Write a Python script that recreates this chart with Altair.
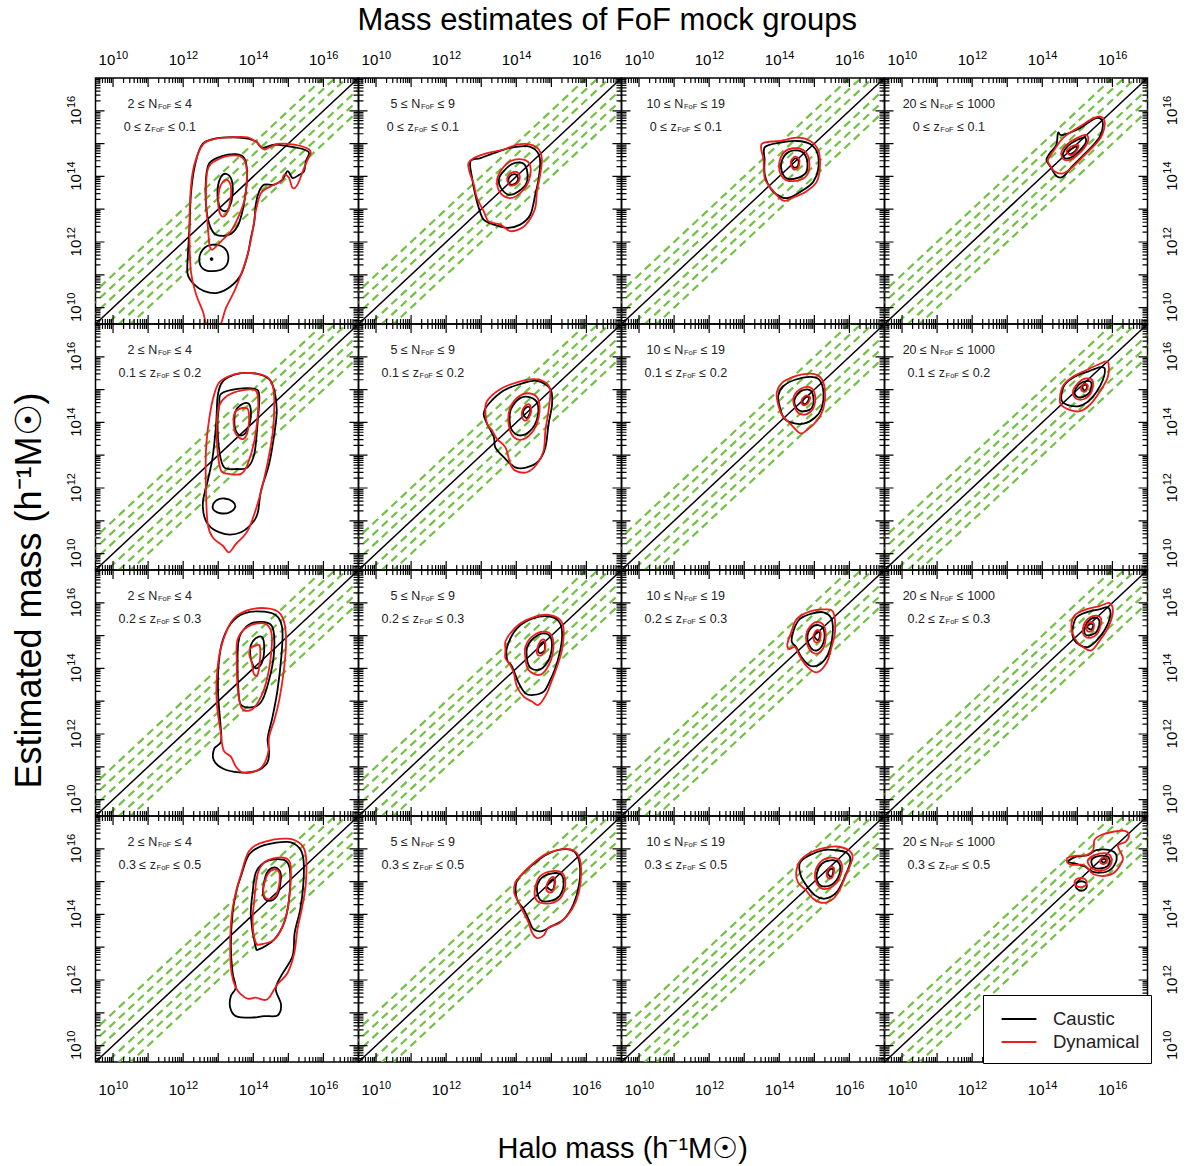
import altair as alt
import pandas as pd

# ---------------------------------------------------------------------------
# Data: contour rings as (log10 halo mass, log10 estimated
# mass).  One list of rings per panel (row, column) and per estimator.
# ---------------------------------------------------------------------------
CAUSTIC_00 = [
    [(12.51, 14.92), (12.79, 15.12), (13.27, 15.19), (13.74, 15.17), (14.07, 15.07), (14.26, 14.87), (14.60, 14.97),
     (14.98, 14.92), (15.45, 14.82), (15.59, 14.71), (15.50, 14.46), (15.45, 14.16), (15.31, 14.05), (15.12, 13.95),
     (14.98, 14.16), (14.83, 13.90), (14.60, 13.75), (14.31, 13.75), (14.17, 13.55), (14.07, 13.14), (14.03, 12.63),
     (13.93, 12.12), (13.84, 11.62), (13.65, 11.01), (13.36, 10.65), (12.98, 10.45), (12.60, 10.50), (12.32, 10.70),
     (12.13, 11.01), (12.13, 11.51), (12.18, 12.43), (12.22, 13.44), (12.32, 14.26)],
    [(12.75, 14.41), (13.08, 14.61), (13.50, 14.68), (13.74, 14.56), (13.82, 14.16), (13.79, 13.55), (13.69, 12.94),
     (13.55, 12.48), (13.31, 12.22), (12.94, 12.22), (12.75, 12.53), (12.65, 13.14), (12.65, 13.95)],
    [(13.22, 14.08), (13.38, 13.90), (13.41, 13.44), (13.31, 13.04), (13.17, 12.94), (13.03, 13.09), (12.98, 13.55),
     (13.06, 13.95)],
    [(12.46, 11.46), (12.56, 11.77), (12.84, 11.92), (13.17, 11.82), (13.29, 11.51), (13.17, 11.21), (12.84, 11.11),
     (12.56, 11.19)],
    [(12.79, 11.50), (12.83, 11.50), (12.83, 11.46), (12.79, 11.46)],
]
DYNAMICAL_00 = [
    [(12.56, 14.97), (12.89, 15.14), (13.36, 15.19), (13.84, 15.19), (14.12, 15.02), (14.31, 14.82), (14.69, 14.99),
     (15.17, 14.97), (15.55, 14.85), (15.64, 14.71), (15.55, 14.51), (15.45, 14.26), (15.26, 13.75), (15.12, 13.65),
     (15.02, 13.95), (14.88, 14.05), (14.79, 13.85), (14.50, 13.70), (14.22, 13.49), (14.07, 12.94), (13.98, 12.33),
     (13.84, 11.62), (13.65, 11.01), (13.46, 10.50), (13.22, 9.99), (13.03, 9.42), (12.70, 9.42), (12.56, 9.89),
     (12.37, 10.40), (12.22, 11.11), (12.18, 12.43), (12.22, 13.65), (12.32, 14.36)],
    [(12.70, 14.21), (12.98, 14.51), (13.46, 14.64), (13.74, 14.51), (13.82, 14.05), (13.76, 13.34), (13.60, 12.83),
     (13.36, 12.33), (13.08, 12.02), (12.84, 11.77), (12.75, 11.92), (12.70, 12.53), (12.65, 13.34)],
    [(13.25, 13.90), (13.36, 13.70), (13.34, 13.24), (13.22, 12.83), (13.08, 12.81), (13.00, 13.14), (13.03, 13.60),
     (13.13, 13.83)],
]
CAUSTIC_01 = [
    [(12.69, 14.46), (12.98, 14.56), (13.36, 14.71), (13.83, 14.87), (14.30, 14.92), (14.59, 14.76), (14.68, 14.46),
     (14.64, 13.95), (14.54, 13.44), (14.40, 12.83), (14.11, 12.53), (13.74, 12.43), (13.36, 12.53), (13.07, 12.68),
     (12.93, 13.04), (12.83, 13.44), (12.74, 13.95)],
    [(13.59, 14.10), (13.88, 14.38), (14.16, 14.41), (14.30, 14.21), (14.29, 13.80), (14.07, 13.55), (13.78, 13.44),
     (13.56, 13.65), (13.50, 13.90)],
    [(13.78, 13.93), (13.88, 14.05), (14.00, 14.05), (14.05, 13.90), (13.94, 13.77), (13.81, 13.77)],
]
DYNAMICAL_01 = [
    [(12.64, 14.41), (12.79, 14.56), (13.17, 14.71), (13.64, 14.82), (14.02, 14.97), (14.40, 14.97), (14.64, 14.82),
     (14.73, 14.51), (14.68, 14.05), (14.59, 13.55), (14.54, 13.04), (14.35, 12.63), (14.16, 12.43), (13.83, 12.33),
     (13.55, 12.53), (13.21, 12.63), (13.07, 12.94), (12.88, 13.34), (12.79, 13.75), (12.69, 14.05), (12.64, 14.26)],
    [(13.55, 14.16), (13.83, 14.46), (14.21, 14.51), (14.40, 14.31), (14.35, 13.85), (14.11, 13.49), (13.83, 13.34),
     (13.55, 13.49), (13.45, 13.85)],
    [(13.74, 13.95), (13.85, 14.10), (14.02, 14.13), (14.10, 13.97), (14.00, 13.77), (13.81, 13.73)],
]
CAUSTIC_02 = [
    [(13.59, 14.89), (14.02, 15.03), (14.50, 15.08), (14.88, 14.99), (15.09, 14.70), (15.11, 14.22), (14.97, 13.84),
     (14.69, 13.59), (14.31, 13.36), (14.07, 13.36), (13.78, 13.59), (13.59, 14.03), (13.58, 14.51)],
    [(14.07, 14.47), (14.26, 14.74), (14.59, 14.78), (14.78, 14.55), (14.78, 14.16), (14.57, 13.97), (14.23, 13.93),
     (14.07, 14.16)],
    [(14.35, 14.43), (14.46, 14.55), (14.55, 14.47), (14.52, 14.30), (14.40, 14.28)],
]
DYNAMICAL_02 = [
    [(13.50, 14.99), (14.02, 15.08), (14.50, 15.18), (14.88, 15.08), (15.11, 14.80), (15.16, 14.32), (15.07, 13.84),
     (14.78, 13.55), (14.40, 13.36), (14.12, 13.26), (13.83, 13.55), (13.59, 13.93), (13.55, 14.51)],
    [(14.02, 14.51), (14.21, 14.80), (14.59, 14.85), (14.83, 14.60), (14.83, 14.12), (14.59, 13.89), (14.21, 13.88),
     (14.02, 14.12)],
    [(14.33, 14.45), (14.45, 14.60), (14.57, 14.51), (14.54, 14.28), (14.40, 14.22)],
]
CAUSTIC_03 = [
    [(14.12, 14.50), (14.21, 14.70), (14.40, 14.96), (14.45, 15.33), (14.57, 15.26), (15.07, 15.47), (15.45, 15.74),
     (15.65, 15.77), (15.73, 15.57), (15.64, 15.21), (15.40, 14.89), (15.11, 14.58), (14.83, 14.28), (14.59, 13.99),
     (14.40, 14.01), (14.23, 14.30)],
    [(14.59, 14.70), (14.73, 14.93), (14.99, 15.11), (15.21, 15.19), (15.24, 15.03), (15.07, 14.79), (14.86, 14.60),
     (14.65, 14.55)],
    [(14.73, 14.76), (14.86, 14.86), (14.99, 14.91), (14.95, 14.79), (14.80, 14.68)],
]
DYNAMICAL_03 = [
    [(14.16, 14.50), (14.31, 14.76), (14.54, 15.11), (14.69, 15.26), (15.07, 15.52), (15.45, 15.77), (15.68, 15.82),
     (15.78, 15.62), (15.68, 15.21), (15.45, 14.91), (15.16, 14.60), (14.88, 14.30), (14.59, 14.09), (14.35, 14.15),
     (14.21, 14.35)],
    [(14.54, 14.70), (14.69, 14.96), (14.97, 15.16), (15.26, 15.26), (15.30, 15.06), (15.11, 14.76), (14.88, 14.55),
     (14.64, 14.50)],
    [(14.69, 14.76), (14.83, 14.91), (15.02, 14.96), (14.99, 14.81), (14.83, 14.65)],
]
CAUSTIC_10 = [
    [(13.27, 15.37), (13.65, 15.50), (14.12, 15.48), (14.45, 15.32), (14.60, 14.97), (14.67, 14.36), (14.60, 13.65),
     (14.45, 12.73), (14.22, 11.92), (14.14, 11.31), (14.03, 11.01), (13.65, 10.65), (13.17, 10.60), (12.70, 10.90),
     (12.56, 11.51), (12.70, 12.22), (12.84, 12.94), (12.94, 13.95), (12.98, 14.76), (13.08, 15.17)],
    [(13.08, 14.87), (13.55, 15.02), (14.03, 15.02), (14.17, 14.82), (14.12, 13.95), (14.03, 13.04), (13.84, 12.63),
     (13.55, 12.58), (13.17, 12.63), (13.03, 13.14), (12.98, 13.95), (13.03, 14.56)],
    [(13.50, 14.36), (13.69, 14.56), (13.88, 14.56), (13.93, 14.16), (13.82, 13.75), (13.65, 13.60), (13.50, 13.75),
     (13.46, 14.05)],
    [(12.84, 11.43), (12.94, 11.62), (13.17, 11.68), (13.41, 11.59), (13.48, 11.41), (13.31, 11.25), (13.06, 11.23),
     (12.89, 11.31)],
]
DYNAMICAL_10 = [
    [(13.08, 15.27), (13.65, 15.50), (14.31, 15.43), (14.55, 15.12), (14.60, 14.56), (14.55, 13.65), (14.36, 12.53),
     (14.12, 11.51), (13.84, 10.70), (13.50, 10.29), (13.31, 10.04), (13.13, 10.24), (12.84, 10.50), (12.70, 10.90),
     (12.65, 11.92), (12.65, 13.14), (12.75, 14.16), (12.89, 14.87)],
    [(13.03, 14.51), (13.27, 14.82), (13.65, 14.97), (14.07, 14.97), (14.14, 14.46), (14.03, 13.44), (13.84, 12.73),
     (13.65, 12.43), (13.31, 12.43), (13.08, 12.53), (12.98, 13.14), (12.96, 13.95)],
    [(13.46, 14.26), (13.60, 14.41), (13.84, 14.41), (13.88, 14.05), (13.82, 13.65), (13.69, 13.49), (13.50, 13.65),
     (13.44, 13.95)],
]
CAUSTIC_11 = [
    [(13.07, 14.26), (13.21, 14.56), (13.64, 14.97), (14.11, 15.17), (14.59, 15.27), (14.97, 15.02), (15.02, 14.56),
     (14.92, 13.95), (14.83, 13.24), (14.64, 12.83), (14.30, 12.63), (13.97, 12.63), (13.64, 12.94), (13.40, 13.24),
     (13.36, 13.55), (13.17, 13.95)],
    [(13.81, 14.05), (13.85, 14.41), (14.11, 14.74), (14.40, 14.76), (14.61, 14.56), (14.59, 14.10), (14.40, 13.75),
     (14.11, 13.60), (13.88, 13.75)],
    [(14.19, 14.31), (14.29, 14.46), (14.38, 14.46), (14.40, 14.31), (14.29, 14.13)],
]
DYNAMICAL_11 = [
    [(13.12, 14.36), (13.17, 14.66), (13.55, 15.02), (14.02, 15.22), (14.49, 15.32), (14.83, 15.22), (14.97, 14.97),
     (14.92, 14.36), (14.83, 13.75), (14.78, 13.14), (14.59, 12.73), (14.30, 12.48), (13.97, 12.53), (13.83, 12.73),
     (13.69, 13.24), (13.45, 13.49), (13.31, 13.75), (13.17, 13.95)],
    [(13.78, 13.95), (13.83, 14.46), (14.11, 14.82), (14.45, 14.87), (14.64, 14.66), (14.64, 14.16), (14.49, 13.75),
     (14.21, 13.49), (13.93, 13.55)],
    [(14.16, 14.31), (14.26, 14.51), (14.38, 14.54), (14.42, 14.31), (14.30, 14.07), (14.19, 14.10)],
]
CAUSTIC_12 = [
    [(13.97, 14.82), (14.12, 15.11), (14.45, 15.30), (14.88, 15.39), (15.14, 15.30), (15.26, 14.92), (15.21, 14.44),
     (15.02, 14.15), (14.69, 13.96), (14.35, 13.99), (14.12, 14.15), (14.00, 14.53)],
    [(14.43, 14.68), (14.61, 14.95), (14.86, 14.99), (14.97, 14.78), (14.93, 14.45), (14.70, 14.34), (14.52, 14.40)],
    [(14.67, 14.68), (14.76, 14.78), (14.85, 14.74), (14.78, 14.59), (14.69, 14.57)],
]
DYNAMICAL_12 = [
    [(13.93, 14.92), (14.07, 15.20), (14.40, 15.39), (14.88, 15.49), (15.16, 15.39), (15.30, 15.01), (15.26, 14.44),
     (15.07, 14.05), (14.78, 13.76), (14.59, 13.67), (14.31, 13.96), (14.07, 14.24), (13.95, 14.63)],
    [(14.40, 14.72), (14.59, 15.01), (14.88, 15.07), (15.02, 14.82), (14.97, 14.44), (14.73, 14.24), (14.50, 14.34)],
    [(14.64, 14.68), (14.76, 14.82), (14.88, 14.76), (14.80, 14.57), (14.67, 14.53)],
]
CAUSTIC_13 = [
    [(14.54, 14.82), (14.64, 15.15), (14.92, 15.39), (15.30, 15.55), (15.63, 15.68), (15.78, 15.64), (15.73, 15.30),
     (15.54, 14.92), (15.30, 14.63), (15.02, 14.49), (14.73, 14.53), (14.57, 14.63)],
    [(14.92, 14.92), (15.04, 15.15), (15.25, 15.26), (15.40, 15.20), (15.35, 14.92), (15.16, 14.78), (14.99, 14.78)],
    [(15.14, 15.07), (15.22, 15.15), (15.28, 15.09), (15.22, 14.97)],
]
DYNAMICAL_13 = [
    [(14.50, 14.72), (14.59, 15.11), (14.87, 15.39), (15.25, 15.59), (15.63, 15.78), (15.87, 15.84), (15.87, 15.39),
     (15.63, 14.92), (15.35, 14.53), (15.07, 14.34), (14.78, 14.38), (14.54, 14.53)],
    [(14.87, 14.92), (15.02, 15.20), (15.25, 15.34), (15.44, 15.26), (15.40, 14.92), (15.21, 14.72), (14.97, 14.72)],
    [(15.11, 15.07), (15.21, 15.18), (15.30, 15.11), (15.24, 14.95), (15.14, 14.95)],
]
CAUSTIC_20 = [
    [(13.36, 15.37), (13.74, 15.68), (14.31, 15.73), (14.69, 15.58), (14.83, 15.17), (14.80, 14.36), (14.69, 13.34),
     (14.55, 12.53), (14.41, 11.87), (14.45, 11.46), (14.39, 11.11), (14.07, 10.87), (13.60, 10.83), (13.13, 10.95),
     (12.87, 11.21), (12.89, 11.56), (13.08, 11.77), (13.06, 12.33), (13.00, 13.14), (13.00, 13.95), (13.10, 14.76)],
    [(13.57, 14.76), (13.65, 15.07), (13.93, 15.37), (14.41, 15.39), (14.58, 15.12), (14.58, 14.36), (14.45, 13.65),
     (14.26, 13.04), (14.03, 12.83), (13.65, 12.89), (13.57, 13.44), (13.55, 14.16)],
    [(13.93, 14.71), (14.07, 14.92), (14.26, 14.94), (14.31, 14.56), (14.24, 14.16), (14.07, 14.00), (13.95, 14.21),
     (13.91, 14.46)],
]
DYNAMICAL_20 = [
    [(13.50, 15.58), (13.93, 15.80), (14.41, 15.83), (14.74, 15.70), (14.90, 15.32), (14.93, 14.66), (14.86, 13.85),
     (14.74, 13.04), (14.60, 12.43), (14.45, 11.92), (14.43, 11.46), (14.26, 11.01), (13.98, 10.84), (13.69, 10.83),
     (13.50, 11.01), (13.36, 11.31), (13.15, 11.51), (13.06, 12.12), (12.96, 12.94), (12.96, 13.75), (13.06, 14.56),
     (13.27, 15.22)],
    [(13.55, 14.87), (13.84, 15.27), (14.31, 15.37), (14.52, 15.07), (14.50, 14.36), (14.36, 13.55), (14.12, 12.94),
     (13.88, 12.71), (13.65, 12.83), (13.55, 13.44), (13.53, 14.16)],
    [(13.89, 14.41), (13.91, 14.61), (14.12, 14.71), (14.19, 14.66), (14.19, 14.26), (14.12, 13.80), (14.01, 13.85),
     (13.96, 14.16)],
]
CAUSTIC_21 = [
    [(13.74, 14.66), (14.02, 15.22), (14.49, 15.53), (14.97, 15.58), (15.25, 15.37), (15.30, 14.87), (15.16, 14.16),
     (14.97, 13.65), (14.78, 13.29), (14.49, 13.19), (14.26, 13.24), (14.07, 13.55), (13.88, 14.05), (13.74, 14.26)],
    [(14.30, 14.61), (14.49, 14.92), (14.78, 15.07), (14.99, 14.92), (14.99, 14.46), (14.83, 14.10), (14.59, 13.95),
     (14.35, 14.10)],
    [(14.62, 14.56), (14.70, 14.76), (14.80, 14.79), (14.81, 14.56), (14.68, 14.46)],
]
DYNAMICAL_21 = [
    [(13.69, 14.82), (13.83, 15.07), (14.11, 15.37), (14.54, 15.58), (14.92, 15.63), (15.25, 15.48), (15.35, 15.17),
     (15.30, 14.56), (15.16, 14.05), (15.02, 13.65), (14.87, 13.24), (14.64, 12.89), (14.45, 12.99), (14.21, 13.14),
     (14.02, 13.44), (13.93, 13.85), (13.83, 14.10), (13.69, 14.31), (13.69, 14.56)],
    [(14.26, 14.66), (14.45, 14.97), (14.78, 15.12), (15.02, 14.97), (15.04, 14.46), (14.87, 14.00), (14.64, 13.80),
     (14.35, 13.95), (14.26, 14.31)],
    [(14.59, 14.56), (14.68, 14.82), (14.80, 14.87), (14.83, 14.61), (14.73, 14.41), (14.61, 14.41)],
]
CAUSTIC_22 = [
    [(14.35, 14.84), (14.45, 15.28), (14.59, 15.51), (14.92, 15.67), (15.26, 15.71), (15.49, 15.51), (15.52, 15.03),
     (15.40, 14.46), (15.16, 14.13), (14.88, 14.08), (14.64, 14.33), (14.48, 14.65)],
    [(14.80, 14.94), (14.90, 15.23), (15.11, 15.32), (15.27, 15.17), (15.26, 14.79), (15.08, 14.55), (14.90, 14.63)],
    [(15.00, 14.98), (15.08, 15.13), (15.16, 15.05), (15.11, 14.86)],
]
DYNAMICAL_22 = [
    [(14.23, 14.75), (14.35, 15.13), (14.50, 15.51), (14.88, 15.74), (15.30, 15.80), (15.54, 15.71), (15.59, 15.13),
     (15.49, 14.65), (15.35, 14.17), (15.07, 13.88), (14.78, 14.07), (14.59, 14.36), (14.45, 14.65), (14.29, 14.59)],
    [(14.76, 14.94), (14.88, 15.28), (15.11, 15.42), (15.30, 15.23), (15.30, 14.75), (15.11, 14.46), (14.88, 14.55)],
    [(14.97, 14.98), (15.07, 15.17), (15.18, 15.09), (15.14, 14.84), (15.02, 14.80)],
]
CAUSTIC_23 = [
    [(14.86, 15.17), (14.97, 15.55), (15.25, 15.71), (15.63, 15.80), (15.87, 15.86), (15.94, 15.61), (15.78, 15.17),
     (15.54, 14.84), (15.30, 14.65), (15.07, 14.71), (14.89, 14.90)],
    [(15.21, 15.23), (15.33, 15.46), (15.52, 15.55), (15.63, 15.42), (15.56, 15.13), (15.40, 15.02), (15.23, 15.03)],
    [(15.28, 15.26), (15.37, 15.36), (15.45, 15.32), (15.40, 15.19)],
]
DYNAMICAL_23 = [
    [(14.83, 15.23), (14.92, 15.61), (15.25, 15.80), (15.63, 15.90), (15.92, 15.99), (16.01, 15.71), (15.87, 15.23),
     (15.63, 14.84), (15.40, 14.55), (15.16, 14.65), (14.97, 14.84)],
    [(15.16, 15.23), (15.30, 15.51), (15.54, 15.61), (15.68, 15.48), (15.59, 15.09), (15.40, 14.94), (15.21, 14.98)],
    [(15.25, 15.26), (15.35, 15.40), (15.47, 15.36), (15.44, 15.17), (15.30, 15.13)],
]
CAUSTIC_30 = [
    [(13.65, 15.17), (13.88, 15.83), (14.31, 16.11), (14.98, 16.21), (15.31, 16.03), (15.43, 15.68), (15.43, 14.97),
     (15.34, 14.16), (15.18, 13.44), (15.12, 12.73), (14.79, 12.12), (14.64, 11.72), (14.79, 11.26), (14.69, 10.92),
     (14.31, 10.90), (13.93, 10.85), (13.50, 10.90), (13.34, 11.16), (13.36, 11.51), (13.50, 11.77), (13.41, 12.22),
     (13.36, 13.04), (13.41, 14.05), (13.53, 14.76)],
    [(13.93, 13.95), (13.98, 14.66), (14.07, 15.27), (14.31, 15.58), (14.60, 15.68), (14.93, 15.63), (15.05, 15.32),
     (15.02, 14.46), (14.88, 13.75), (14.60, 13.24), (14.17, 12.94), (14.06, 13.04)],
    [(14.29, 14.87), (14.39, 15.27), (14.60, 15.43), (14.77, 15.29), (14.77, 14.92), (14.67, 14.56), (14.45, 14.41),
     (14.29, 14.56)],
]
DYNAMICAL_30 = [
    [(13.65, 15.22), (13.88, 15.93), (14.31, 16.21), (14.98, 16.31), (15.36, 16.14), (15.50, 15.78), (15.50, 14.97),
     (15.40, 14.26), (15.26, 13.55), (15.17, 12.83), (14.98, 12.22), (14.69, 11.87), (14.45, 11.46), (14.31, 11.39),
     (14.07, 11.46), (13.84, 11.43), (13.65, 11.56), (13.50, 11.77), (13.38, 12.22), (13.34, 12.94), (13.38, 13.95),
     (13.50, 14.66)],
    [(13.98, 13.75), (14.03, 14.46), (14.12, 15.22), (14.31, 15.58), (14.69, 15.73), (14.98, 15.68), (15.07, 15.37),
     (15.02, 14.46), (14.88, 13.75), (14.60, 13.24), (14.22, 13.09), (14.07, 13.14)],
    [(14.29, 14.82), (14.41, 15.22), (14.60, 15.37), (14.74, 15.27), (14.74, 14.92), (14.64, 14.56), (14.45, 14.46),
     (14.31, 14.56)],
]
CAUSTIC_31 = [
    [(14.02, 14.46), (14.00, 14.97), (14.21, 15.27), (14.54, 15.58), (14.87, 15.83), (15.30, 15.98), (15.63, 15.93),
     (15.80, 15.58), (15.80, 14.97), (15.63, 14.31), (15.35, 13.85), (15.02, 13.65), (14.73, 13.49), (14.49, 13.55),
     (14.35, 13.85), (14.21, 14.16)],
    [(14.59, 14.82), (14.73, 15.12), (15.02, 15.25), (15.27, 15.22), (15.35, 14.92), (15.23, 14.56), (14.97, 14.41),
     (14.68, 14.44)],
    [(14.87, 14.85), (14.97, 15.02), (15.06, 15.07), (15.09, 14.92), (15.02, 14.74)],
]
DYNAMICAL_31 = [
    [(13.94, 14.66), (13.97, 14.97), (14.16, 15.22), (14.45, 15.53), (14.78, 15.80), (15.16, 15.96), (15.54, 15.98),
     (15.78, 15.78), (15.85, 15.27), (15.78, 14.66), (15.59, 14.16), (15.25, 13.75), (14.92, 13.60), (14.78, 13.36),
     (14.59, 13.28), (14.45, 13.44), (14.35, 13.75), (14.21, 14.05), (14.07, 14.36)],
    [(14.54, 14.51), (14.54, 14.82), (14.68, 15.17), (15.02, 15.32), (15.30, 15.27), (15.40, 14.97), (15.30, 14.56),
     (15.06, 14.36), (14.68, 14.36)],
    [(14.85, 14.82), (14.95, 15.07), (15.06, 15.14), (15.11, 14.97), (15.04, 14.71), (14.92, 14.68)],
]
CAUSTIC_32 = [
    [(14.59, 15.58), (14.88, 15.81), (15.26, 15.96), (15.59, 15.96), (15.92, 15.88), (16.03, 15.63), (15.87, 15.15),
     (15.63, 14.67), (15.30, 14.48), (15.02, 14.58), (14.78, 14.87), (14.61, 15.19)],
    [(15.07, 15.25), (15.21, 15.54), (15.46, 15.65), (15.69, 15.58), (15.73, 15.29), (15.56, 14.96), (15.30, 14.85),
     (15.11, 14.96)],
    [(15.38, 15.25), (15.46, 15.38), (15.54, 15.35), (15.49, 15.15)],
]
DYNAMICAL_32 = [
    [(14.48, 15.25), (14.59, 15.63), (14.88, 15.88), (15.26, 16.02), (15.63, 16.07), (15.97, 15.96), (16.09, 15.73),
     (15.92, 15.25), (15.73, 14.77), (15.54, 14.48), (15.26, 14.35), (14.97, 14.48), (14.73, 14.77), (14.54, 14.96)],
    [(15.02, 15.25), (15.16, 15.58), (15.45, 15.73), (15.73, 15.63), (15.78, 15.31), (15.59, 14.92), (15.30, 14.77),
     (15.08, 14.92)],
    [(15.35, 15.25), (15.45, 15.44), (15.56, 15.40), (15.52, 15.15), (15.40, 15.10)],
]
CAUSTIC_33 = [
    [(14.73, 15.61), (14.97, 15.76), (15.30, 15.81), (15.54, 15.96), (15.92, 15.96), (16.11, 15.81), (16.06, 15.51),
     (15.83, 15.30), (15.45, 15.30), (15.21, 15.46), (14.97, 15.54)],
    [(15.40, 15.64), (15.54, 15.76), (15.83, 15.78), (15.92, 15.66), (15.87, 15.48), (15.65, 15.40), (15.46, 15.44)],
    [(15.68, 15.64), (15.77, 15.69), (15.83, 15.64), (15.75, 15.58)],
    [(14.95, 14.87), (15.00, 14.97), (15.11, 15.01), (15.23, 14.97), (15.27, 14.87), (15.23, 14.77), (15.11, 14.72),
     (15.00, 14.77)],
]
DYNAMICAL_33 = [
    [(14.71, 15.71), (14.88, 15.78), (15.26, 15.81), (15.45, 15.96), (15.49, 16.27), (15.68, 16.42), (16.02, 16.52),
     (16.35, 16.55), (16.47, 16.42), (16.38, 16.22), (16.16, 16.12), (16.20, 15.96), (16.30, 15.71), (16.20, 15.46),
     (16.02, 15.25), (15.73, 15.17), (15.45, 15.23), (15.30, 15.41), (15.16, 15.51), (14.88, 15.51), (14.73, 15.56)],
    [(15.30, 15.66), (15.49, 15.81), (15.83, 15.86), (15.97, 15.71), (15.92, 15.46), (15.68, 15.33), (15.45, 15.38),
     (15.33, 15.51)],
    [(15.64, 15.63), (15.73, 15.73), (15.84, 15.71), (15.83, 15.58), (15.71, 15.54)],
    [(14.92, 14.97), (14.97, 15.07), (15.09, 15.11), (15.22, 15.07), (15.27, 14.97), (15.22, 14.87), (15.09, 14.83),
     (14.97, 14.87)],
]

N_RANGES = [("2", "4"), ("5", "9"), ("10", "19"), ("20", "1000")]      # columns
Z_RANGES = [("0", "0.1"), ("0.1", "0.2"), ("0.2", "0.3"), ("0.3", "0.5")]  # rows
BAND_OFFSETS = [-1.0, -2.0 / 3.0, -1.0 / 3.0, 1.0 / 3.0, 2.0 / 3.0, 1.0]   # dex
LOG_MIN, LOG_MAX = 9.5, 17.0
LABEL_DECADES = [10, 12, 14, 16]
METHODS = ["Caustic", "Dynamical"]

MAIN_TITLE = "Mass estimates of FoF mock groups"
X_TITLE = "Halo mass (h\u207b\u00b9M\u2609)"
Y_TITLE = "Estimated mass (h\u207b\u00b9M\u2609)"

CAUSTIC = {(0, 0): CAUSTIC_00, (0, 1): CAUSTIC_01, (0, 2): CAUSTIC_02, (0, 3): CAUSTIC_03,
           (1, 0): CAUSTIC_10, (1, 1): CAUSTIC_11, (1, 2): CAUSTIC_12, (1, 3): CAUSTIC_13,
           (2, 0): CAUSTIC_20, (2, 1): CAUSTIC_21, (2, 2): CAUSTIC_22, (2, 3): CAUSTIC_23,
           (3, 0): CAUSTIC_30, (3, 1): CAUSTIC_31, (3, 2): CAUSTIC_32, (3, 3): CAUSTIC_33}
DYNAMICAL = {(0, 0): DYNAMICAL_00, (0, 1): DYNAMICAL_01, (0, 2): DYNAMICAL_02, (0, 3): DYNAMICAL_03,
             (1, 0): DYNAMICAL_10, (1, 1): DYNAMICAL_11, (1, 2): DYNAMICAL_12, (1, 3): DYNAMICAL_13,
             (2, 0): DYNAMICAL_20, (2, 1): DYNAMICAL_21, (2, 2): DYNAMICAL_22, (2, 3): DYNAMICAL_23,
             (3, 0): DYNAMICAL_30, (3, 1): DYNAMICAL_31, (3, 2): DYNAMICAL_32, (3, 3): DYNAMICAL_33}

# ---------------------------------------------------------------------------
# Styling
# ---------------------------------------------------------------------------
FONT = "Liberation Sans"
GREEN = "#72c045"
RED = "#f01c1c"
W, H = 263, 246

# Arial/Liberation Sans advance widths (em) used to place superscripts/subscripts
ADV = {"0": .556, "1": .556, "2": .556, "3": .556, "4": .556, "5": .556, "6": .556, "7": .556,
       "8": .556, "9": .556, " ": .278, ".": .278, "\u2264": .549, "N": .722, "z": .5,
       "F": .611, "o": .556}


def text_width(s, fs):
    return sum(ADV.get(ch, 0.556) for ch in s) * fs


# ---------------------------------------------------------------------------
# Tables for the library
# ---------------------------------------------------------------------------
tick_rows = []
for n in range(9, 18):
    for k in range(1, 10):
        v = k * 10.0 ** n
        if 10 ** LOG_MIN <= v <= 10 ** LOG_MAX * 1.0001:
            tick_rows.append({"v": v, "len": 18 if k == 1 else 10})
TICKS_DF = pd.DataFrame(tick_rows)

LABELS_DF = pd.DataFrame({"v": [10.0 ** d for d in LABEL_DECADES],
                          "base": ["10"] * len(LABEL_DECADES),
                          "exp": [str(d) for d in LABEL_DECADES]})

line_rows = []
for j, d in enumerate([0.0] + BAND_OFFSETS):
    for lx in (LOG_MIN - 1.5, LOG_MAX + 1.5):
        line_rows.append({"line": j, "kind": "diag" if d == 0 else "band",
                          "halo": 10 ** lx, "est": 10 ** (lx + d)})
LINES_DF = pd.DataFrame(line_rows)


def contour_df(r, c):
    rows = []
    for method, rings in ((METHODS[0], CAUSTIC[(r, c)]), (METHODS[1], DYNAMICAL[(r, c)])):
        for k, ring in enumerate(rings):
            for i, (lx, ly) in enumerate(ring):
                rows.append({"method": method, "ring": f"{method}-{k}", "i": i,
                             "halo": 10 ** lx, "est": 10 ** ly})
    return pd.DataFrame(rows)


def lscale():
    return alt.Scale(type="log", domain=[10 ** LOG_MIN, 10 ** LOG_MAX], nice=False)


# legend placed relative to the first panel's frame origin
LEGEND = alt.Legend(title=None, orient="none", legendX=887.5, legendY=917, direction="vertical",
                    symbolType="M-0.45,0L2.45,0", symbolSize=576, symbolStrokeWidth=2,
                    labelFont=FONT, labelFontSize=18.5, labelColor="#222222", labelOffset=33,
                    padding=11, rowPadding=0, strokeColor="black", fillColor="white",
                    cornerRadius=0)

BASE_FS, EXP_FS = 15, 11
W_BASE = text_width("10", BASE_FS)
HALF = (W_BASE + text_width("10", EXP_FS)) / 2


def tick_label_layers(side):
    out = []
    for field, fs, dx, dy in (("base", BASE_FS, -HALF, 0), ("exp", EXP_FS, -HALF + W_BASE + 0.5, -6)):
        angle = 0 if side in ("top", "bottom") else 270
        mk = alt.Chart(LABELS_DF).mark_text(align="left", baseline="alphabetic", font=FONT, fontSize=fs,
                                            color="black", dx=dx, dy=dy, angle=angle)
        if side == "top":
            enc = dict(x=alt.X("v:Q", scale=lscale(), axis=None), y=alt.value(-13))
        elif side == "bottom":
            enc = dict(x=alt.X("v:Q", scale=lscale(), axis=None), y=alt.value(H + 33))
        elif side == "left":
            enc = dict(y=alt.Y("v:Q", scale=lscale(), axis=None), x=alt.value(-14.5))
        else:
            enc = dict(y=alt.Y("v:Q", scale=lscale(), axis=None), x=alt.value(W + 29))
        out.append(mk.encode(text=f"{field}:N", **enc))
    return out


def label_layers(prefix, sub, suffix, baseline_y):
    fs, sfs, cx = 12.5, 7.5, 64
    gap = text_width(" ", fs)
    wp, ws, wsu = text_width(prefix, fs), text_width(sub, sfs), text_width(suffix, fs)
    start = cx - (wp + ws + gap + wsu) / 2
    anchor = start + wp
    out = []
    for s, x, size, align, y in ((prefix, anchor, fs, "right", baseline_y),
                                 (sub, anchor + 0.6, sfs, "left", baseline_y + 1),
                                 (suffix, anchor + ws + 0.6 + gap, fs, "left", baseline_y)):
        out.append(alt.Chart(pd.DataFrame({"t": [s]})).mark_text(
            align=align, baseline="alphabetic", font=FONT, fontSize=size, color="#222222"
        ).encode(text="t:N", x=alt.value(x), y=alt.value(y)))
    return out


def panel(r, c):
    X = alt.X("halo:Q", scale=lscale(), axis=None)
    Y = alt.Y("est:Q", scale=lscale(), axis=None)

    band = alt.Chart(LINES_DF).transform_filter("datum.kind == 'band'").mark_line(
        color=GREEN, strokeWidth=2.2, strokeDash=[8, 5], clip=True
    ).encode(x=X, y=Y, detail="line:N")
    diag = alt.Chart(LINES_DF).transform_filter("datum.kind == 'diag'").mark_line(
        color="black", strokeWidth=1.5, clip=True
    ).encode(x=X, y=Y, detail="line:N")
    cont = alt.Chart(contour_df(r, c)).mark_line(
        interpolate="cardinal-closed", strokeWidth=1.8, clip=True
    ).encode(
        x=X, y=Y,
        color=alt.Color("method:N", scale=alt.Scale(domain=METHODS, range=["black", RED]), legend=LEGEND),
        detail="ring:N", order="i:Q",
    )

    tick_kw = dict(color="black", thickness=1.2, clip=True, opacity=1)
    tsize = alt.Size("len:Q", scale=None)
    tx = alt.X("v:Q", scale=lscale(), axis=None)
    ty = alt.Y("v:Q", scale=lscale(), axis=None)
    ticks = [
        alt.Chart(TICKS_DF).mark_tick(orient="vertical", **tick_kw).encode(x=tx, y=alt.value(H), size=tsize),
        alt.Chart(TICKS_DF).mark_tick(orient="vertical", **tick_kw).encode(x=tx, y=alt.value(0), size=tsize),
        alt.Chart(TICKS_DF).mark_tick(orient="horizontal", **tick_kw).encode(y=ty, x=alt.value(0), size=tsize),
        alt.Chart(TICKS_DF).mark_tick(orient="horizontal", **tick_kw).encode(y=ty, x=alt.value(W), size=tsize),
    ]

    labels = []
    if r == 0:
        labels += tick_label_layers("top")
    if r == 3:
        labels += tick_label_layers("bottom")
    if c == 0:
        labels += tick_label_layers("left")
    if c == 3:
        labels += tick_label_layers("right")

    nlo, nhi = N_RANGES[c]
    zlo, zhi = Z_RANGES[r]
    texts = (label_layers(f"{nlo} \u2264 N", "FoF", f"\u2264 {nhi}", 30)
             + label_layers(f"{zlo} \u2264 z", "FoF", f"\u2264 {zhi}", 53))

    return alt.layer(band, diag, cont, *ticks, *labels, *texts).properties(width=W, height=H)


panels = [panel(r, c) for r in range(4) for c in range(4)]

title_kw = dict(font=FONT, fontWeight="normal", color="black", anchor="middle")
grid = alt.concat(*panels, columns=4, spacing=0, align="each", bounds="flush",
                  title=alt.TitleParams(X_TITLE, orient="bottom", offset=36, fontSize=29, **title_kw))
mid = alt.hconcat(grid, title=alt.TitleParams(Y_TITLE, orient="left", offset=16, fontSize=36, dx=16,
                                              **title_kw))
chart = alt.vconcat(
    mid, title=alt.TitleParams(MAIN_TITLE, orient="top", offset=12, fontSize=31, dx=11, **title_kw)
).properties(
    padding={"left": 11.5, "right": 4, "top": 5, "bottom": 0}
).configure_view(stroke="black", strokeWidth=1.5)

chart.save("out.html", embed_options={"renderer": "svg", "actions": False})
